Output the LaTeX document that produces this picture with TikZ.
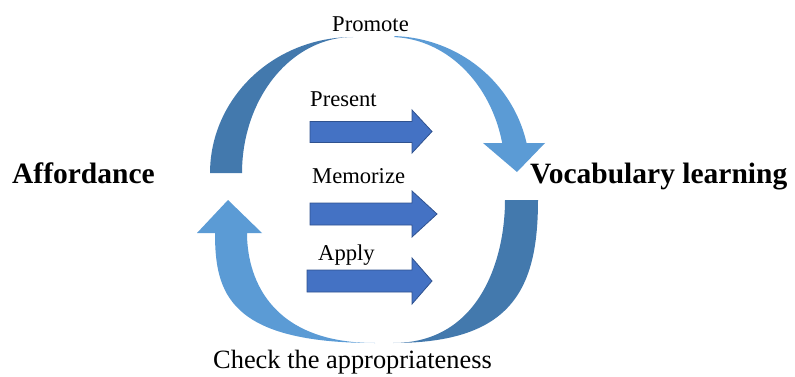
\documentclass[tikz,border=0pt]{standalone}
\usepackage{fontspec}
\setmainfont{Liberation Serif}
\definecolor{arcdark}{RGB}{67,121,173}
\definecolor{arclight}{RGB}{91,155,213}
\definecolor{arrowfill}{RGB}{68,114,196}
\definecolor{arrowline}{RGB}{47,82,143}
\begin{document}
\begin{tikzpicture}[x=1pt,y=-1pt,
  lbl/.style={anchor=base west, inner sep=0pt, font=\fontsize{22.6}{27}\selectfont},
  bigl/.style={anchor=base west, inner sep=0pt, font=\fontsize{26.4}{31}\selectfont},
  ttl/.style={anchor=base west, inner sep=0pt, font=\bfseries\fontsize{29.5}{35}\selectfont},
  darkarc/.style={fill=arcdark},
  lightarc/.style={fill=arclight},
  blockarrow/.style={fill=arrowfill, draw=arrowline, line width=0.8pt, line join=miter}]
\useasboundingbox (0,0) rectangle (795,377);

% curved arrows
\fill[darkarc] plot[domain=180:270, samples=40] ({353+143*cos(\x)},{173+136*sin(\x)})
  -- plot[domain=270:180, samples=40] ({353+111*cos(\x)},{173+136*sin(\x)}) -- cycle;

\fill[lightarc] plot[domain=272:347.4, samples=40] ({390+140*cos(\x)},{173+137*sin(\x)})
  -- (545,143) -- (517,172) -- (483,143)
  -- plot[domain=347.26:272, samples=40] ({390+115*cos(\x)},{173+136*sin(\x)}) -- cycle;

\fill[darkarc] (538,200) .. controls (538,289) and (512,343) .. (393,343)
  .. controls (481,343) and (505,257) .. (505,200) -- cycle;

\fill[lightarc] (228,200) -- (262,233) -- (247,233)
  .. controls (247,273) and (266,343) .. (375,343)
  .. controls (228,343) and (215,292) .. (215,233) -- (197,233) -- cycle;

% straight block arrows
\coordinate (p0) at (310,132);
\draw[blockarrow] (310,121.5) -- (412,121.5) -- (412,110) -- (432,131.5) -- (412,153) -- (412,142.5) -- (310,142.5) -- cycle;
\draw[blockarrow] (310,203) -- (412,203) -- (412,191) -- (437,214) -- (412,237) -- (412,225) -- (310,225) -- cycle;
\draw[blockarrow] (307,270) -- (412,270) -- (412,258) -- (432,281) -- (412,304) -- (412,292) -- (307,292) -- cycle;

% labels
\node[lbl] (promote) at (332,32) {Promote};
\node[lbl] (present) at (310,107) {Present};
\node[lbl] (memorize) at (312,183) {Memorize};
\node[lbl] (apply) at (318,260) {Apply};
\node[bigl] (check) at (213,368) {Check the appropriateness};
\node[ttl] (afford) at (12,183) {Affordance};
\node[ttl] (vocab) at (530,183) {Vocabulary learning};
\end{tikzpicture}
\end{document}
